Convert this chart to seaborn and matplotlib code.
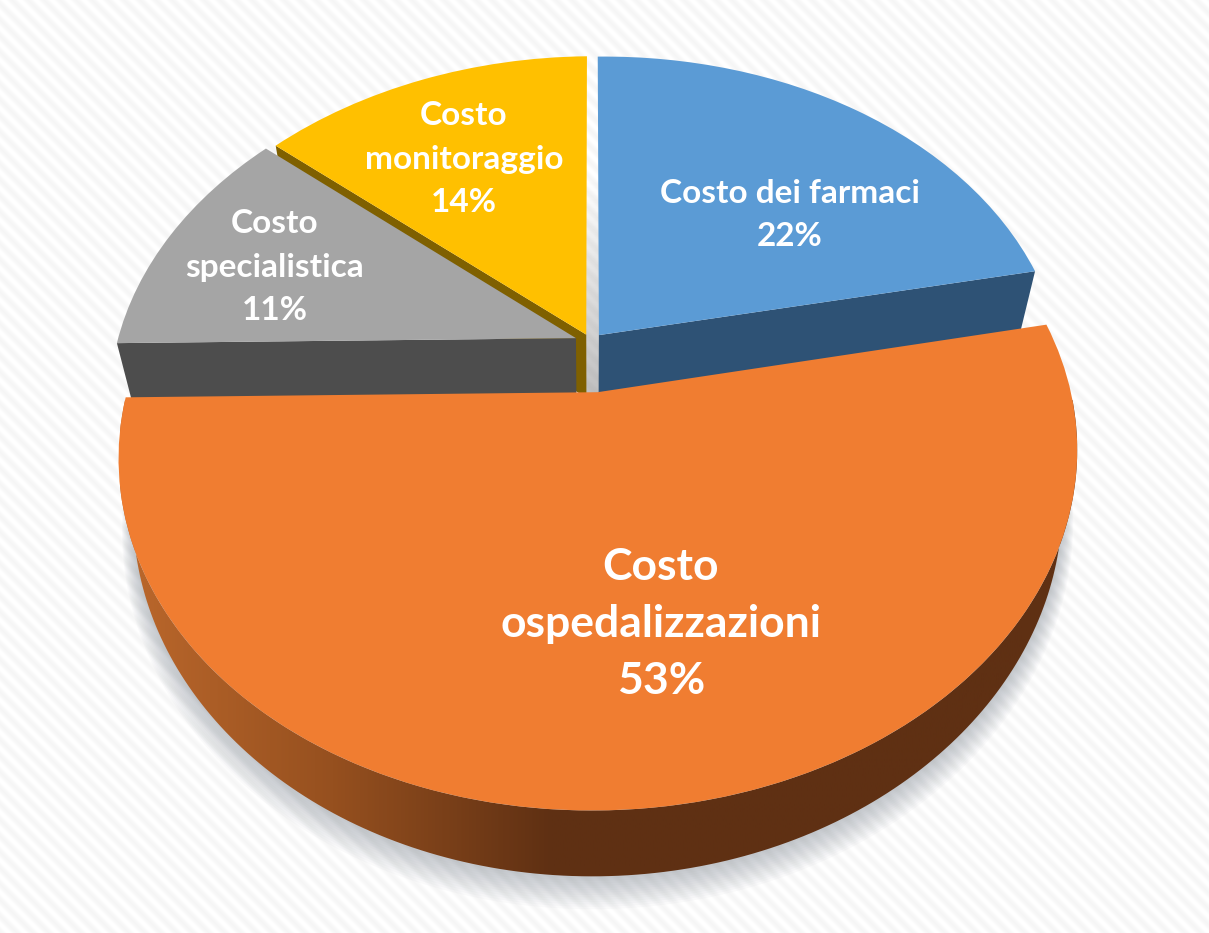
import numpy as np
import seaborn as sns
import matplotlib.pyplot as plt
from matplotlib.colors import LinearSegmentedColormap
from matplotlib.patches import Polygon
from matplotlib.transforms import Transform

# Data
categories = ['Costo dei farmaci', 'Costo\nospedalizzazioni', 'Costo\nspecialistica', 'Costo\nmonitoraggio']
shares = [22, 53, 11.4, 13.6]
explode = [0.027, 0.15, 0.035, 0.025]
top_colors = ['#5B9BD5', '#F07D31', '#A5A5A5', '#FFC000']
wall_colors = ['#2E5275', '#5F3013', '#4D4D4D', '#7F6000']
label_xy = [(790, 215), (661, 624), (275, 267), (464, 159)]
label_sizes = [24, 32, 24, 24]
label_spacing = [1.6, 1.52, 1.6, 1.6]

# 3D look of the pie (pixels)
CX, CY = 591, 342
FX, FY = 460, 328
DEPTH = 53
SHEAR = 5
K_BACK, K_DOWN = 0.17, 0.03


class Persp(Transform):
    """Projects the flat pie (x, y) at height z to picture pixels."""
    input_dims = output_dims = 2

    def __init__(self, z=0.0):
        super().__init__()
        self.z = z

    def transform_non_affine(self, values):
        values = np.asarray(values, dtype=float)
        w = 1 + K_BACK * values[:, 1]
        return np.column_stack([CX + FX * values[:, 0] / (w + K_DOWN * self.z),
                                CY - (FY * values[:, 1] + SHEAR * values[:, 0] - DEPTH * self.z) / w])


def arc_points(wedge, t1, t2, r=1.0):
    t = np.radians(np.linspace(t1, t2, 200))
    cx, cy = wedge.center
    return np.column_stack([cx + r * np.cos(t), cy + r * np.sin(t)])


def edge_wall(wedge, theta, z=1.2):
    pts = np.vstack([wedge.center, arc_points(wedge, theta, theta)[:1]])
    return np.vstack([Persp(0).transform(pts), Persp(z).transform(pts[::-1])])


sns.set_theme(style='white')
plt.rcParams['font.family'] = ['Lato', 'DejaVu Sans']

fig = plt.figure(figsize=(12.09, 9.33), dpi=100)
ax = fig.add_axes([0, 0, 1, 1])

palette = sns.color_palette(top_colors)
wedges, _ = ax.pie(shares, explode=explode, colors=palette, startangle=90,
                   counterclock=False, radius=1.0, wedgeprops={'linewidth': 0})

ax.set_aspect('auto')
ax.set_xlim(0, 1209)
ax.set_ylim(933, 0)
ax.axis('off')

# striped backdrop
yy, xx = np.mgrid[0:933, 0:1209]
stripes = 0.98 + 0.02 * np.sin(2 * np.pi * (xx - yy) / 16.0)
ax.imshow(stripes, cmap='gray', vmin=0, vmax=1, extent=(0, 1209, 933, 0),
          aspect='auto', zorder=0, interpolation='bilinear')

blue, orange, grey, yellow = wedges
for wedge, z in zip([yellow, grey, blue, orange], [2, 3, 4, 6]):
    wedge.set_transform(Persp(0) + ax.transData)
    wedge.set_zorder(z)

# soft shadow below the big slice
arc = (orange.theta1, orange.theta2)
for s in range(1, 15):
    pts = Persp(1 + s * 0.018).transform(arc_points(orange, *arc, r=1 + s * 0.0022))
    ax.add_patch(Polygon(pts, closed=True, fc='#858D98', ec='none', alpha=0.04, zorder=1))

# shadow that falls into the gap between yellow and blue
gap_left = Persp(0).transform([yellow.center])[0, 0]
gap_right = Persp(0).transform([blue.center])[0, 0]
gap = np.zeros((256, 1, 4))
gap[:, 0, :3] = 0.45
gap[:, 0, 3] = np.clip(np.linspace(-0.25, 0.45, 256), 0, 1)
ax.imshow(gap, extent=(gap_left, gap_right, 395, 60), aspect='auto', zorder=1.2)

# cut walls of the three small slices
ax.add_patch(Polygon(edge_wall(blue, blue.theta1), fc=wall_colors[0], ec='none', zorder=3.5))
ax.add_patch(Polygon(edge_wall(grey, grey.theta2), fc=wall_colors[2], ec='none', zorder=2.5))
ax.add_patch(Polygon(edge_wall(yellow, yellow.theta2), fc=wall_colors[3], ec='none', zorder=1.5))

# rim of the big slice, shaded from left to right
rim_top = Persp(0).transform(arc_points(orange, *arc))
rim_bottom = Persp(1).transform(arc_points(orange, *arc))
rim = Polygon(np.vstack([rim_top, rim_bottom[::-1]]), fc='none', ec='none', zorder=5)
ax.add_patch(rim)
rim_cmap = LinearSegmentedColormap.from_list(
    'rim', [(0.0, '#BC682C'), (0.22, '#96501F'), (0.45, wall_colors[1]), (1.0, wall_colors[1])])
shade = np.linspace(0, 1, 512).reshape(1, -1)
img = ax.imshow(shade, cmap=rim_cmap, extent=(120, 1080, 880, 400), aspect='auto', zorder=5)
img.set_clip_path(rim)

for text, share, (x, y), size, spacing in zip(categories, shares, label_xy, label_sizes, label_spacing):
    ax.text(x, y, f'{text}\n{share:.0f}%', color='white', fontsize=size, fontweight='bold',
            ha='center', va='center', linespacing=spacing, zorder=8)

fig.savefig('out.png', dpi=100)
